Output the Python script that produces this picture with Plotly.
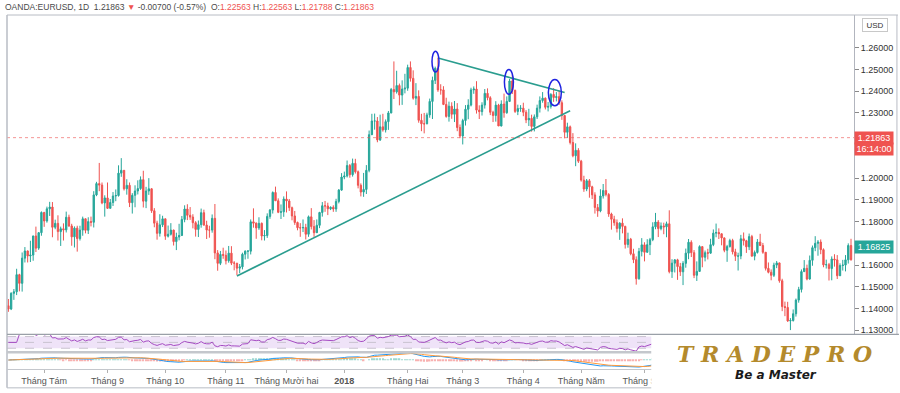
import numpy as np
import pandas as pd
import plotly.graph_objects as go

# ---------------- DATA (EUR/USD daily) ----------------
start_date = "2017-07-13"
end_date = "2018-09-14"
first_open = 1.1413

closes = [
    1.1398, 1.1470,
    1.1477, 1.1556, 1.1516, 1.1632, 1.1665,
    1.1642, 1.1646, 1.1734, 1.1678, 1.1749,
    1.1842, 1.1803, 1.1859, 1.1867, 1.1774,
    1.1792, 1.1754, 1.1767, 1.1762, 1.1820,
    1.1780, 1.1730, 1.1770, 1.1722, 1.1761,
    1.1813, 1.1760, 1.1800, 1.1797, 1.1923,
    1.1975, 1.1968, 1.1886, 1.1909, 1.1861,
    1.1888, 1.1918, 1.1920, 1.2023, 1.2036,
    1.1951, 1.1967, 1.1887, 1.1921, 1.1941,
    1.1952, 1.1993, 1.1894, 1.1941, 1.1951,
    1.1850, 1.1793, 1.1746, 1.1785, 1.1813,
    1.1733, 1.1742, 1.1761, 1.1708, 1.1729,
    1.1736, 1.1810, 1.1858, 1.1829, 1.1821,
    1.1795, 1.1764, 1.1786, 1.1841, 1.1784,
    1.1761, 1.1761, 1.1815, 1.1656, 1.1608,
    1.1649, 1.1645, 1.1620, 1.1655, 1.1609,
    1.1609, 1.1586, 1.1592, 1.1650, 1.1664,
    1.1664, 1.1799, 1.1793, 1.1771, 1.1792,
    1.1734, 1.1736, 1.1824, 1.1853, 1.1934,
    1.1896, 1.1843, 1.1845, 1.1904, 1.1895,
    1.1864, 1.1826, 1.1796, 1.1772, 1.1771,
    1.1773, 1.1742, 1.1822, 1.1777, 1.1749,
    1.1783, 1.1842, 1.1873, 1.1872, 1.1859,
    1.1866, 1.1858, 1.1893, 1.1945, 1.2005,
    1.2010, 1.2058, 1.2016, 1.2068, 1.2029,
    1.1967, 1.1936, 1.1948, 1.2036, 1.2200,
    1.2263, 1.2263, 1.2176, 1.2236, 1.2222,
    1.2260, 1.2300, 1.2408, 1.2397, 1.2426,
    1.2382, 1.2410, 1.2414, 1.2509, 1.2459,
    1.2368, 1.2376, 1.2266, 1.2250, 1.2250,
    1.2291, 1.2353, 1.2450, 1.2505, 1.2406,
    1.2406, 1.2339, 1.2284, 1.2331, 1.2294,
    1.2318, 1.2233, 1.2194, 1.2265, 1.2317,
    1.2336, 1.2406, 1.2410, 1.2313, 1.2306,
    1.2336, 1.2390, 1.2370, 1.2303, 1.2288,
    1.2336, 1.2240, 1.2341, 1.2301, 1.2353,
    1.2447, 1.2404, 1.2307, 1.2320, 1.2322,
    1.2303, 1.2268, 1.2275, 1.2238, 1.2282,
    1.2322, 1.2357, 1.2368, 1.2326, 1.2330,
    1.2385, 1.2371, 1.2375, 1.2347, 1.2288,
    1.2211, 1.2236, 1.2164, 1.2103, 1.2128,
    1.2078, 1.1991, 1.1950, 1.1988, 1.1960,
    1.1923, 1.1865, 1.1849, 1.1918, 1.1943,
    1.1925, 1.1835, 1.1811, 1.1795, 1.1768,
    1.1793, 1.1778, 1.1695, 1.1719, 1.1652,
    1.1625, 1.1537, 1.1663, 1.1693, 1.1659,
    1.1694, 1.1717, 1.1776, 1.1798, 1.1768,
    1.1780, 1.1776, 1.1790, 1.1570, 1.1609,
    1.1624, 1.1593, 1.1569, 1.1608, 1.1655,
    1.1705, 1.1657, 1.1553, 1.1571, 1.1685,
    1.1636, 1.1657, 1.1655, 1.1694, 1.1747,
    1.1750, 1.1744, 1.1725, 1.1668, 1.1685,
    1.1713, 1.1661, 1.1641, 1.1642, 1.1721,
    1.1712, 1.1684, 1.1731, 1.1641, 1.1658,
    1.1706, 1.1690, 1.1659, 1.1585, 1.1567,
    1.1553, 1.1600, 1.1610, 1.1528, 1.1409,
    1.1405, 1.1343, 1.1345, 1.1376, 1.1439,
    1.1488, 1.1570, 1.1585, 1.1536, 1.1622,
    1.1680, 1.1700, 1.1706, 1.1671, 1.1601,
    1.1602, 1.1584, 1.1628, 1.1624, 1.1551,
    1.1598, 1.1600, 1.1624, 1.1690, 1.1625,
]

highs = [
    1.1444, 1.1475,
    1.1490, 1.1583, 1.1560, 1.1658, 1.1683,
    1.1667, 1.1712, 1.1735, 1.1777, 1.1752,
    1.1847, 1.1845, 1.1869, 1.1891, 1.1890,
    1.1809, 1.1829, 1.1777, 1.1792, 1.1846,
    1.1832, 1.1790, 1.1778, 1.1781, 1.1781,
    1.1823, 1.1814, 1.1820, 1.1823, 1.1940,
    1.1983, 1.2070, 1.1980, 1.1921, 1.1980,
    1.1904, 1.1936, 1.1948, 1.2059, 1.2092,
    1.2030, 1.1995, 1.1980, 1.1931, 1.1967,
    1.1990, 1.2008, 1.2034, 1.1960, 1.2000,
    1.1954, 1.1862, 1.1804, 1.1834, 1.1827,
    1.1795, 1.1782, 1.1793, 1.1763, 1.1749,
    1.1790, 1.1826, 1.1875, 1.1880, 1.1867,
    1.1834, 1.1802, 1.1805, 1.1860, 1.1855,
    1.1804, 1.1781, 1.1833, 1.1881, 1.1669,
    1.1665, 1.1680, 1.1667, 1.1688, 1.1687,
    1.1618, 1.1608, 1.1605, 1.1657, 1.1668,
    1.1669, 1.1810, 1.1861, 1.1796, 1.1820,
    1.1796, 1.1761, 1.1838, 1.1858, 1.1939,
    1.1961, 1.1907, 1.1879, 1.1916, 1.1939,
    1.1904, 1.1869, 1.1849, 1.1800, 1.1793,
    1.1810, 1.1790, 1.1828, 1.1862, 1.1807,
    1.1810, 1.1845, 1.1890, 1.1895, 1.1887,
    1.1870, 1.1875, 1.1905, 1.1950, 1.2023,
    1.2030, 1.2081, 1.2065, 1.2090, 1.2089,
    1.2035, 1.1976, 1.2024, 1.2060, 1.2219,
    1.2296, 1.2297, 1.2281, 1.2292, 1.2296,
    1.2270, 1.2309, 1.2415, 1.2537, 1.2494,
    1.2435, 1.2450, 1.2480, 1.2522, 1.2537,
    1.2496, 1.2437, 1.2404, 1.2296, 1.2300,
    1.2301, 1.2366, 1.2467, 1.2513, 1.2555,
    1.2432, 1.2423, 1.2370, 1.2352, 1.2349,
    1.2355, 1.2345, 1.2247, 1.2273, 1.2336,
    1.2363, 1.2416, 1.2422, 1.2446, 1.2335,
    1.2349, 1.2410, 1.2413, 1.2377, 1.2310,
    1.2354, 1.2342, 1.2358, 1.2389, 1.2376,
    1.2456, 1.2476, 1.2407, 1.2338, 1.2336,
    1.2347, 1.2313, 1.2319, 1.2292, 1.2293,
    1.2338, 1.2376, 1.2396, 1.2371, 1.2350,
    1.2391, 1.2414, 1.2396, 1.2403, 1.2358,
    1.2290, 1.2255, 1.2242, 1.2207, 1.2160,
    1.2138, 1.2084, 1.2011, 1.1996, 1.1996,
    1.1965, 1.1935, 1.1881, 1.1949, 1.1973,
    1.1996, 1.1931, 1.1841, 1.1827, 1.1810,
    1.1797, 1.1815, 1.1781, 1.1749, 1.1725,
    1.1675, 1.1640, 1.1679, 1.1724, 1.1705,
    1.1719, 1.1725, 1.1797, 1.1840, 1.1807,
    1.1796, 1.1795, 1.1800, 1.1852, 1.1627,
    1.1627, 1.1629, 1.1610, 1.1618, 1.1676,
    1.1720, 1.1714, 1.1669, 1.1617, 1.1691,
    1.1685, 1.1667, 1.1675, 1.1721, 1.1764,
    1.1791, 1.1769, 1.1746, 1.1727, 1.1693,
    1.1721, 1.1721, 1.1675, 1.1657, 1.1739,
    1.1750, 1.1716, 1.1745, 1.1739, 1.1667,
    1.1720, 1.1744, 1.1702, 1.1660, 1.1612,
    1.1580, 1.1611, 1.1619, 1.1611, 1.1537,
    1.1432, 1.1431, 1.1356, 1.1396, 1.1446,
    1.1500, 1.1580, 1.1623, 1.1602, 1.1644,
    1.1690, 1.1733, 1.1715, 1.1718, 1.1677,
    1.1625, 1.1610, 1.1640, 1.1650, 1.1646,
    1.1608, 1.1624, 1.1646, 1.1700, 1.1721,
]

lows = [
    1.1385, 1.1393,
    1.1440, 1.1462, 1.1479, 1.1478, 1.1612,
    1.1612, 1.1614, 1.1620, 1.1660, 1.1670,
    1.1735, 1.1776, 1.1795, 1.1826, 1.1728,
    1.1765, 1.1713, 1.1688, 1.1713, 1.1750,
    1.1776, 1.1689, 1.1681, 1.1662, 1.1713,
    1.1735, 1.1746, 1.1743, 1.1778, 1.1773,
    1.1917, 1.1940, 1.1880, 1.1823, 1.1858,
    1.1863, 1.1872, 1.1894, 1.1915, 1.2006,
    1.1943, 1.1924, 1.1867, 1.1837, 1.1866,
    1.1925, 1.1946, 1.1865, 1.1862, 1.1923,
    1.1840, 1.1774, 1.1717, 1.1731, 1.1775,
    1.1716, 1.1727, 1.1736, 1.1690, 1.1669,
    1.1714, 1.1738, 1.1797, 1.1807, 1.1808,
    1.1769, 1.1731, 1.1729, 1.1772, 1.1781,
    1.1720, 1.1726, 1.1749, 1.1627, 1.1574,
    1.1600, 1.1629, 1.1603, 1.1611, 1.1600,
    1.1576, 1.1554, 1.1563, 1.1580, 1.1626,
    1.1629, 1.1649, 1.1772, 1.1721, 1.1762,
    1.1714, 1.1713, 1.1725, 1.1813, 1.1837,
    1.1895, 1.1839, 1.1812, 1.1822, 1.1842,
    1.1849, 1.1806, 1.1785, 1.1760, 1.1730,
    1.1752, 1.1718, 1.1730, 1.1764, 1.1730,
    1.1748, 1.1770, 1.1823, 1.1845, 1.1830,
    1.1853, 1.1845, 1.1845, 1.1884, 1.1942,
    1.1995, 1.2003, 1.2002, 1.2007, 1.2021,
    1.1953, 1.1916, 1.1914, 1.1927, 1.2027,
    1.2198, 1.2223, 1.2165, 1.2171, 1.2214,
    1.2210, 1.2222, 1.2298, 1.2364, 1.2389,
    1.2335, 1.2337, 1.2390, 1.2402, 1.2444,
    1.2361, 1.2336, 1.2255, 1.2216, 1.2206,
    1.2248, 1.2278, 1.2272, 1.2433, 1.2397,
    1.2384, 1.2336, 1.2278, 1.2260, 1.2273,
    1.2258, 1.2216, 1.2184, 1.2155, 1.2242,
    1.2271, 1.2330, 1.2388, 1.2297, 1.2272,
    1.2288, 1.2320, 1.2358, 1.2290, 1.2258,
    1.2260, 1.2240, 1.2238, 1.2278, 1.2296,
    1.2350, 1.2387, 1.2300, 1.2290, 1.2305,
    1.2285, 1.2253, 1.2240, 1.2214, 1.2215,
    1.2272, 1.2302, 1.2347, 1.2316, 1.2307,
    1.2320, 1.2351, 1.2353, 1.2337, 1.2268,
    1.2183, 1.2185, 1.2155, 1.2096, 1.2055,
    1.2070, 1.1984, 1.1937, 1.1940, 1.1910,
    1.1904, 1.1837, 1.1822, 1.1843, 1.1906,
    1.1916, 1.1822, 1.1763, 1.1781, 1.1750,
    1.1716, 1.1746, 1.1676, 1.1680, 1.1645,
    1.1609, 1.1510, 1.1533, 1.1640, 1.1617,
    1.1657, 1.1646, 1.1710, 1.1765, 1.1729,
    1.1760, 1.1742, 1.1728, 1.1562, 1.1541,
    1.1566, 1.1532, 1.1550, 1.1508, 1.1588,
    1.1627, 1.1637, 1.1540, 1.1527, 1.1570,
    1.1590, 1.1617, 1.1626, 1.1652, 1.1687,
    1.1728, 1.1720, 1.1691, 1.1659, 1.1615,
    1.1681, 1.1649, 1.1619, 1.1575, 1.1627,
    1.1690, 1.1656, 1.1669, 1.1640, 1.1622,
    1.1653, 1.1688, 1.1652, 1.1575, 1.1562,
    1.1530, 1.1545, 1.1586, 1.1519, 1.1388,
    1.1365, 1.1339, 1.1301, 1.1340, 1.1363,
    1.1427, 1.1474, 1.1568, 1.1530, 1.1533,
    1.1597, 1.1664, 1.1643, 1.1650, 1.1590,
    1.1584, 1.1529, 1.1530, 1.1593, 1.1536,
    1.1550, 1.1575, 1.1571, 1.1607, 1.1620,
]

# visible price-axis ticks (1.17, 1.21, 1.22 sit under the price labels)
price_ticks = [1.13, 1.14, 1.15, 1.16, 1.18, 1.19, 1.20, 1.23, 1.24, 1.25, 1.26]
# visible month labels (later months are hidden behind the logo)
month_ticks = ["2017-08-01", "2017-09-01", "2017-10-02", "2017-11-01", "2017-12-01",
               "2018-01-01", "2018-02-01", "2018-03-01", "2018-04-02", "2018-05-01",
               "2018-06-01"]
month_labels = ["Tháng Tám", "Tháng 9", "Tháng 10", "Tháng 11", "Tháng Mười hai",
                "<b>2018</b>", "Tháng Hai", "Tháng 3", "Tháng 4", "Tháng Năm",
                "Tháng Sáu"]

last_price = 1.21863
marker_price = 1.16825
countdown = "16:14:00"

# drawn trendlines (date, price)
lower_trend = [("2017-11-07", 1.1550), ("2018-04-25", 1.2310)]
upper_trend = [("2018-02-16", 1.2553), ("2018-04-23", 1.2394)]

# ---------------- derived ----------------
dates = pd.bdate_range(start_date, end_date)
assert len(dates) == len(closes) == len(highs) == len(lows)
opens = [first_open] + closes[:-1]
highs_f = [max(h, o, c) for h, o, c in zip(highs, opens, closes)]
lows_f = [min(l, o, c) for l, o, c in zip(lows, opens, closes)]

cs = pd.Series(closes)
delta = cs.diff().fillna(0)
gain = delta.clip(lower=0).ewm(alpha=1 / 14, adjust=False).mean()
loss = (-delta.clip(upper=0)).ewm(alpha=1 / 14, adjust=False).mean()
rsi = (100 - 100 / (1 + gain / loss.replace(0, np.nan))).fillna(50)
ema12 = cs.ewm(span=12, adjust=True).mean()
ema26 = cs.ewm(span=26, adjust=True).mean()
macd = ema12 - ema26
signal = macd.ewm(span=9, adjust=True).mean()
hist = macd - signal

# ---------------- geometry helpers ----------------
W, H = 900, 393
ML, MR, MT, MB = 7, 45, 15, 20
PW, PH = W - ML - MR, H - MT - MB


def px_x(px):
    return (px - ML) / PW


def px_y(py):
    return (H - MB - py) / PH


GREEN = "#26a69a"
RED = "#ef5350"
rb = [dict(bounds=["sat", "mon"])]
xrange_ = ["2017-07-12 12:00", "2018-09-17 02:00"]

fig = go.Figure()
fig.add_trace(go.Candlestick(
    x=dates, open=opens, high=highs_f, low=lows_f, close=closes,
    increasing=dict(line=dict(color=GREEN, width=1), fillcolor=GREEN),
    decreasing=dict(line=dict(color=RED, width=1), fillcolor=RED),
    whiskerwidth=0, xaxis="x", yaxis="y", showlegend=False, hoverinfo="skip"))

fig.add_trace(go.Scatter(x=dates, y=rsi, mode="lines",
                         line=dict(color="#a54bc2", width=1),
                         xaxis="x2", yaxis="y2", showlegend=False))

fig.add_trace(go.Bar(x=dates, y=hist,
                     marker=dict(color=[GREEN if v >= 0 else RED for v in hist], opacity=0.45,
                                 line=dict(width=0)),
                     xaxis="x3", yaxis="y3", showlegend=False))
fig.add_trace(go.Scatter(x=dates, y=macd, mode="lines", line=dict(color="#2196f3", width=1),
                         xaxis="x3", yaxis="y3", showlegend=False))
fig.add_trace(go.Scatter(x=dates, y=signal, mode="lines", line=dict(color="#ff9a3c", width=1),
                         xaxis="x3", yaxis="y3", showlegend=False))

y_top = 1.26 + (48 - MT) / 2192
y_bot = 1.26 - (336.5 - 48) / 2192

common_x = dict(rangebreaks=rb, range=xrange_, showgrid=False, zeroline=False,
                showline=False, domain=[0, 1])
fig.update_layout(
    width=W, height=H, margin=dict(l=ML, r=MR, t=MT, b=MB),
    paper_bgcolor="white", plot_bgcolor="white", bargap=0.4,
    xaxis=dict(anchor="y", showticklabels=False, rangeslider=dict(visible=False), **common_x),
    xaxis2=dict(anchor="y2", matches="x", showticklabels=False, **common_x),
    xaxis3=dict(anchor="y3", matches="x", tickvals=month_ticks, ticktext=month_labels,
                ticks="outside", ticklen=3, tickcolor="#b0b0b0",
                tickfont=dict(family="Liberation Sans", size=9, color="#555"), **common_x),
    yaxis=dict(anchor="x", domain=[px_y(336.5), 1], side="right", range=[y_bot, y_top],
               tickvals=price_ticks, ticktext=[f"{v:.5f}" for v in price_ticks],
               ticks="outside", ticklen=4, tickcolor="#888",
               tickfont=dict(family="Liberation Sans", size=9, color="#333"),
               showgrid=False, zeroline=False, showline=True, linecolor="#b2b5be", linewidth=1),
    yaxis2=dict(anchor="x2", domain=[px_y(354), px_y(337.5)], side="right", range=[20, 76],
                showticklabels=False, showgrid=False, zeroline=False, showline=False),
    yaxis3=dict(anchor="x3", domain=[px_y(372), px_y(356)], side="right",
                range=[-0.017, 0.013], showticklabels=False, showgrid=False,
                zeroline=False, showline=False),
)

shapes = []
# RSI band
shapes.append(dict(type="rect", xref="x2 domain", yref="y2", x0=0, x1=1, y0=30, y1=70,
                   fillcolor="#efe3f8", line=dict(width=0), layer="below"))
for lvl in (30, 50, 70):
    shapes.append(dict(type="line", xref="x2 domain", yref="y2", x0=0, x1=1, y0=lvl, y1=lvl,
                       line=dict(color="#c9c3cf", width=1, dash="dash"), layer="below"))
# last-price dotted line
shapes.append(dict(type="line", xref="paper", yref="y", x0=0, x1=1, y0=last_price,
                   y1=last_price, line=dict(color=RED, width=1, dash="dot"), opacity=0.6))
# trendlines
for seg in (lower_trend, upper_trend):
    shapes.append(dict(type="line", xref="x", yref="y", x0=seg[0][0], y0=seg[0][1],
                       x1=seg[1][0], y1=seg[1][1], line=dict(color="#2a9d8f", width=1.6)))
# hand-drawn ellipses (pixel boxes)
ellipses_px = [(432.5, 51.5, 439.5, 72.5), (505, 70, 514, 95), (549, 80, 562, 106.5)]
for x0, y0, x1, y1 in ellipses_px:
    shapes.append(dict(type="circle", xref="paper", yref="paper",
                       x0=px_x(x0), x1=px_x(x1), y0=px_y(y1), y1=px_y(y0),
                       line=dict(color="#1f23e0", width=1.5)))
# frame & separators
frame = "#b8bcc4"
shapes += [
    dict(type="line", xref="paper", yref="paper", x0=0, x1=0, y0=px_y(391), y1=px_y(15),
         line=dict(color=frame, width=1.5)),
    dict(type="line", xref="paper", yref="paper", x0=0, x1=px_x(899), y0=px_y(15), y1=px_y(15),
         line=dict(color=frame, width=1)),
    dict(type="line", xref="paper", yref="paper", x0=px_x(898), x1=px_x(898), y0=px_y(338),
         y1=px_y(15), line=dict(color=frame, width=1)),
    dict(type="line", xref="paper", yref="paper", x0=0, x1=px_x(900), y0=px_y(337),
         y1=px_y(337), line=dict(color="#9aa0a8", width=1.2)),
    dict(type="line", xref="paper", yref="paper", x0=0, x1=1, y0=px_y(355), y1=px_y(355),
         line=dict(color="#c4c7cc", width=2.5)),
    dict(type="line", xref="paper", yref="paper", x0=0, x1=1, y0=px_y(372.5), y1=px_y(372.5),
         line=dict(color="#c4c7cc", width=1)),
    dict(type="line", xref="paper", yref="paper", x0=0, x1=1, y0=px_y(391), y1=px_y(391),
         line=dict(color=frame, width=1)),
    # white logo area
    dict(type="rect", xref="paper", yref="paper", x0=px_x(652), x1=px_x(901),
         y0=px_y(394), y1=px_y(338), fillcolor="white", line=dict(width=0), layer="above"),
]
fig.update_layout(shapes=shapes)

G = "#4a4a4a"
header = (f'<span style="color:{G}">OANDA:EURUSD, 1D  1.21863 </span>'
          f'<span style="color:{RED}">▼</span>'
          f'<span style="color:{G}"> -0.00700 (-0.57%)  O:</span><span style="color:{RED}">1.22563</span>'
          f'<span style="color:{G}"> H:</span><span style="color:{RED}">1.22563</span>'
          f'<span style="color:{G}"> L:</span><span style="color:{RED}">1.21788</span>'
          f'<span style="color:{G}"> C:</span><span style="color:{RED}">1.21863</span>')
logo_text = " ".join("TRADEPRO")
ann = [
    dict(text=header, xref="paper", yref="paper", x=px_x(3), y=px_y(6.5), xanchor="left",
         yanchor="middle", showarrow=False, font=dict(family="Liberation Sans", size=8.5)),
    dict(text="USD", xref="paper", yref="paper", x=px_x(876.5), y=px_y(25), xanchor="center",
         yanchor="middle", showarrow=False,
         width=22, height=10, bgcolor="white", bordercolor="#c8c8c8", borderwidth=1,
         borderpad=1, font=dict(family="Liberation Sans", size=8, color="#333")),
    dict(text=f"{last_price:.5f}", xref="paper", yref="y", x=px_x(855), y=last_price,
         xanchor="left", yanchor="middle", showarrow=False, width=36, height=10,
         bgcolor=RED, borderpad=1, font=dict(family="Liberation Sans", size=9, color="white")),
    dict(text=countdown, xref="paper", yref="paper", x=px_x(855), y=px_y(150.5),
         xanchor="left", yanchor="middle", showarrow=False, width=36, height=10,
         bgcolor=RED, borderpad=1, font=dict(family="Liberation Sans", size=9, color="white")),
    dict(text=f"{marker_price:.5f}", xref="paper", yref="y", x=px_x(855), y=marker_price,
         xanchor="left", yanchor="middle", showarrow=False, width=36, height=10,
         bgcolor=GREEN, borderpad=1, font=dict(family="Liberation Sans", size=9, color="white")),
    dict(text=logo_text, xref="paper", yref="paper", x=px_x(775), y=px_y(357),
         xanchor="center", yanchor="middle", borderpad=0,
         showarrow=False, font=dict(family="DejaVu Serif", size=22, color="#b48a2c",
                                    weight="bold", style="italic")),
    dict(text="Be a Master", xref="paper", yref="paper", x=px_x(777), y=px_y(378.5),
         xanchor="center", yanchor="middle", borderpad=0,
         showarrow=False, font=dict(family="DejaVu Sans", size=12, color="#1a1a1a",
                                    weight="bold", style="italic")),
]
fig.update_layout(annotations=ann)

fig.write_html("out.html", config={"displayModeBar": False},
               post_script="document.body.style.margin='0';"
                           "document.documentElement.style.overflow='hidden';")
